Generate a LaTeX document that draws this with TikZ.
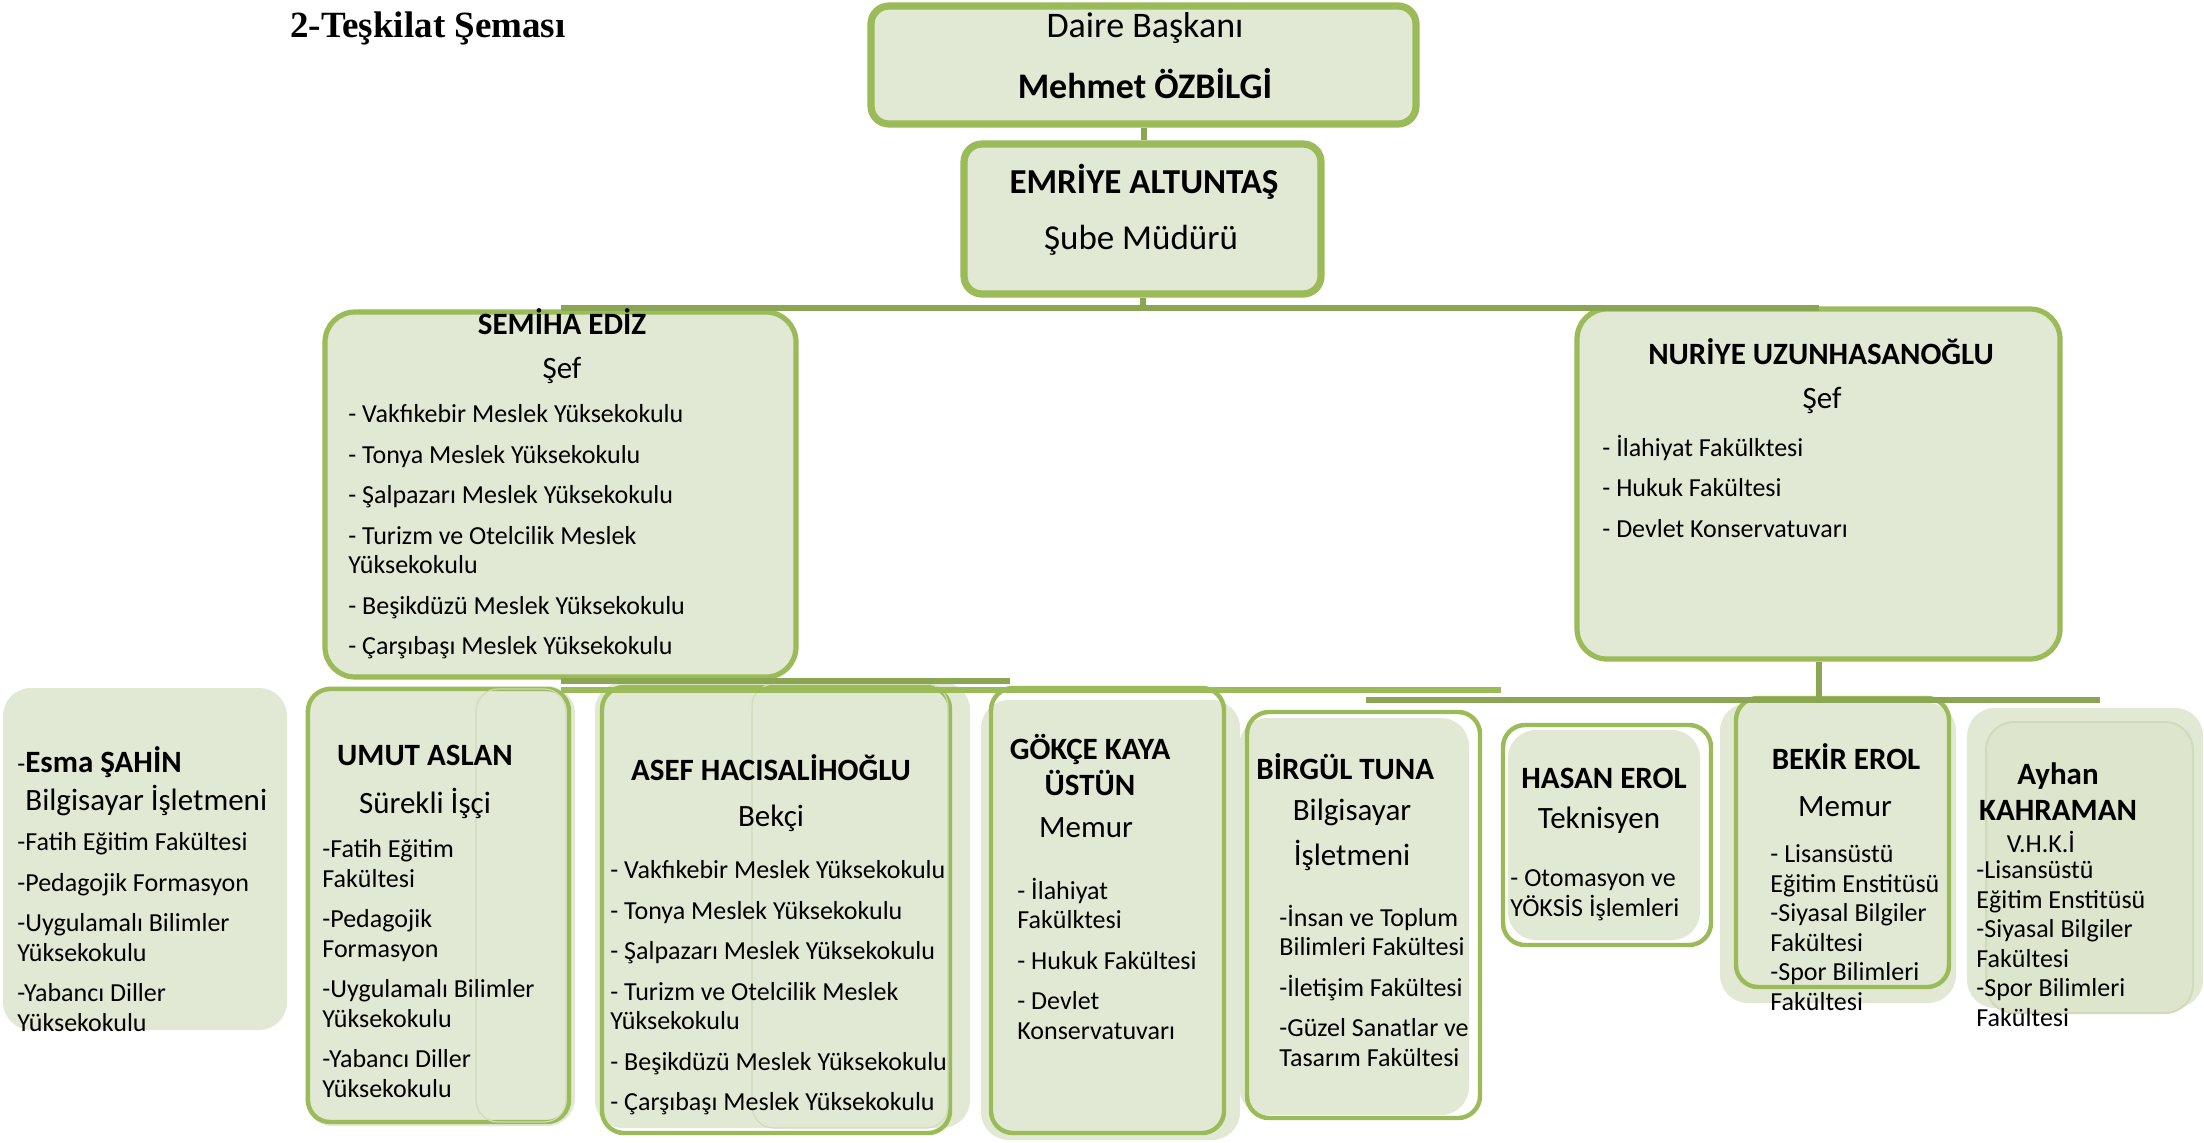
\documentclass[tikz,border=0pt]{standalone}
\usepackage{fontspec}
\setmainfont{Carlito}
\newfontfamily\titlefont{Liberation Serif}
\usepackage{tikz}
\usetikzlibrary{fit}

\definecolor{chartgreen}{HTML}{9BBB59}
\definecolor{rimgreen}{HTML}{8DAE4E}
\definecolor{linegreen}{HTML}{8BA652}
\definecolor{boxfill}{HTML}{E1E8D4}
\definecolor{faintgreen}{HTML}{D0DBBA}

\newcommand{\itemgap}{\\[5.5pt]}

\begin{document}
\begin{tikzpicture}[x = 0.5pt, y = -0.5pt,
	topbox/.style = {draw = chartgreen, line width = 3.6pt, fill = boxfill, rounded corners = 9pt, inner sep = 0pt},
	chiefbox/.style = {topbox, line width = 2.6pt, rounded corners = 15pt},
	staffbox/.style = {draw = chartgreen, line width = 2.2pt, rounded corners = 11pt, inner sep = 0pt},
	plainbox/.style = {fill = boxfill, rounded corners = 14pt, inner sep = 0pt},
	link/.style = {draw = linegreen, line width = 3pt},
	headtext/.style = {font = \fontsize{18}{22}\selectfont, inner sep = 0pt},
	persontext/.style = {font = \bfseries\fontsize{15.5}{18}\selectfont, inner sep = 0pt, align = center},
	roletext/.style = {font = \fontsize{15.5}{18}\selectfont, inner sep = 0pt, align = center},
	unitlist/.style = {font = \fontsize{13}{14.75}\selectfont, inner sep = 0pt, align = left, anchor = north west, execute at begin node = \strut},
]
\path[fill = white] (0,0) rectangle (2204,1142);
\useasboundingbox (0,0) rectangle (2204,1142);

% light shapes behind the lower boxes
\foreach \xa/\ya/\xb/\yb in {305/686/575/1126, 595/682/970/1128, 981/700/1240/1140, 1239/718/1469/1115, 1508/730/1700/940, 1720/703/1956/1003}
	{
		\fill[boxfill, rounded corners = 14pt] (\xa,\ya) rectangle (\xb,\yb);
	}

\node[topbox, fit = {(871,6) (1416,124)}] (daire) {};
\node[topbox, fit = {(964,144) (1321,294)}] (emriye) {};
\node[chiefbox, fit = {(325,312) (796,677)}] (semiha) {};
\node[chiefbox, fit = {(1577,309) (2060,659)}] (nuriye) {};

\node[plainbox, fit = {(3,688) (287,1030)}] (esma) {};
\node[staffbox, fit = {(308,689) (569,1122)}] (umut) {};
\node[staffbox, fit = {(602,687) (950,1133)}] (asef) {};
\node[staffbox, fit = {(991,688) (1224,1133)}] (gokce) {};
\node[staffbox, fit = {(1247,712) (1480,1118)}] (birgul) {};
\node[staffbox, fit = {(1503,725) (1711,945)}] (hasan) {};
\node[staffbox, fit = {(1736,698) (1949,987)}] (bekir) {};
\node[plainbox, fit = {(1967,708) (2203,1008)}] (ayhan) {};

% faint edges of overlapping shapes
\draw[faintgreen, line width = 0.6pt, rounded corners = 11pt] (476,689) rectangle (566,1122);
\draw[faintgreen, line width = 0.6pt, rounded corners = 11pt] (752,684) rectangle (948,1128);
\draw[faintgreen, fill = boxfill!94!chartgreen, line width = 1pt, rounded corners = 14pt] (1986,722) rectangle (2193,1013);

% connectors
\coordinate (bustop) at (0,308);
\coordinate (busleft) at (1010,681);
\coordinate (busmid) at (1501,690);
\coordinate (busright) at (2100,700);
\coordinate (busrightstart) at (1366,700);

\draw[link] (daire.south) -- (daire.south |- emriye.north);
\draw[link] (emriye.south) -- (emriye.south |- bustop);
\draw[link] (semiha.north |- bustop) -- (nuriye.north |- bustop);
\draw[link] (semiha.south |- busleft) -- (busleft);
\draw[link, draw = chartgreen, line width = 2.6pt] (semiha.south |- busmid) -- (busmid);
\draw[link] (nuriye.south) -- (nuriye.south |- busright);
\draw[link] (busrightstart) -- (busright);

% texts
\node[font = \titlefont\bfseries\fontsize{18.5}{22}\selectfont, inner sep = 0pt] (title) at (428,28) {2-Teşkilat Şeması};

\node[headtext] (daire-role) at (1145,28) {Daire Başkanı};
\node[headtext, font = \bfseries\fontsize{18}{22}\selectfont] (daire-name) at (1145,84) {Mehmet ÖZBİLGİ};

\node[headtext, font = \bfseries\fontsize{17.5}{21}\selectfont] (emriye-name) at (1144,182) {EMRİYE ALTUNTAŞ};
\node[headtext, font = \fontsize{17.5}{21}\selectfont] (emriye-role) at (1141,240) {Şube Müdürü};

\node[persontext] (semiha-name) at (562,322) {SEMİHA EDİZ};
\node[roletext] (semiha-role) at (562,370) {Şef};
\node[unitlist] (semiha-units) at (348,404.5) {- Vakfıkebir Meslek Yüksekokulu\itemgap - Tonya Meslek Yüksekokulu\itemgap - Şalpazarı Meslek Yüksekokulu\itemgap - Turizm ve Otelcilik Meslek\\ Yüksekokulu\itemgap - Beşikdüzü Meslek Yüksekokulu\itemgap - Çarşıbaşı Meslek Yüksekokulu};

\node[persontext] (nuriye-name) at (1821,352) {NURİYE UZUNHASANOĞLU};
\node[roletext] (nuriye-role) at (1822,400) {Şef};
\node[unitlist] (nuriye-units) at (1602,434.5) {- İlahiyat Fakülktesi\itemgap - Hukuk Fakültesi\itemgap - Devlet Konservatuvarı};

\node[persontext, anchor = west] (esma-name) at (17,762) {{\mdseries\fontsize{13}{15}\selectfont -}Esma ŞAHİN};
\node[roletext, anchor = west] (esma-role) at (25,800) {Bilgisayar İşletmeni};
\node[unitlist] (esma-units) at (17,832.5) {-Fatih Eğitim Fakültesi\itemgap -Pedagojik Formasyon\itemgap -Uygulamalı Bilimler\\ Yüksekokulu\itemgap -Yabancı Diller\\ Yüksekokulu};

\node[persontext] (umut-name) at (425,755) {UMUT ASLAN};
\node[roletext] (umut-role) at (425,803) {Sürekli İşçi};
\node[unitlist] (umut-units) at (322,839.5) {-Fatih Eğitim\\ Fakültesi\itemgap -Pedagojik\\ Formasyon\itemgap -Uygulamalı Bilimler\\ Yüksekokulu\itemgap -Yabancı Diller\\ Yüksekokulu};

\node[persontext] (asef-name) at (771,768) {ASEF HACISALİHOĞLU};
\node[roletext] (asef-role) at (771,818) {Bekçi};
\node[unitlist] (asef-units) at (610,860.5) {- Vakfıkebir Meslek Yüksekokulu\itemgap - Tonya Meslek Yüksekokulu\itemgap - Şalpazarı Meslek Yüksekokulu\itemgap - Turizm ve Otelcilik Meslek\\ Yüksekokulu\itemgap - Beşikdüzü Meslek Yüksekokulu\itemgap - Çarşıbaşı Meslek Yüksekokulu};

\node[persontext] (gokce-name) at (1090,765) {GÖKÇE KAYA\\ÜSTÜN};
\node[roletext] (gokce-role) at (1086,828) {Memur};
\node[unitlist] (gokce-units) at (1017,877.5) {- İlahiyat\\ Fakülktesi\itemgap - Hukuk Fakültesi\itemgap - Devlet\\ Konservatuvarı};

\node[persontext, anchor = west] (birgul-name) at (1256,767) {BİRGÜL TUNA};
\node[roletext] (birgul-role) at (1352,835) {Bilgisayar\\[4.5pt] İşletmeni};
\node[unitlist] (birgul-units) at (1279,904.5) {-İnsan ve Toplum\\ Bilimleri Fakültesi\itemgap -İletişim Fakültesi\itemgap -Güzel Sanatlar ve\\ Tasarım Fakültesi};

\node[persontext] (hasan-name) at (1604,778) {HASAN EROL};
\node[roletext] (hasan-role) at (1599,820) {Teknisyen};
\node[unitlist] (hasan-units) at (1510,869.5) {- Otomasyon ve\\ YÖKSİS İşlemleri};

\node[persontext] (bekir-name) at (1846,757) {BEKİR EROL};
\node[roletext] (bekir-role) at (1845,807) {Memur};
\node[unitlist] (bekir-units) at (1770,844.5) {- Lisansüstü\\ Eğitim Enstitüsü\\ -Siyasal Bilgiler\\ Fakültesi\\ -Spor Bilimleri\\ Fakültesi};

\node[persontext] (ayhan-name) at (2058,792) {Ayhan\\KAHRAMAN};
\node[font = \fontsize{13}{15}\selectfont, inner sep = 0pt] (ayhan-role) at (2041,842) {V.H.K.İ};
\node[unitlist] (ayhan-units) at (1976,860.5) {-Lisansüstü\\ Eğitim Enstitüsü\\ -Siyasal Bilgiler\\ Fakültesi\\ -Spor Bilimleri\\ Fakültesi};

\end{tikzpicture}
\end{document}
